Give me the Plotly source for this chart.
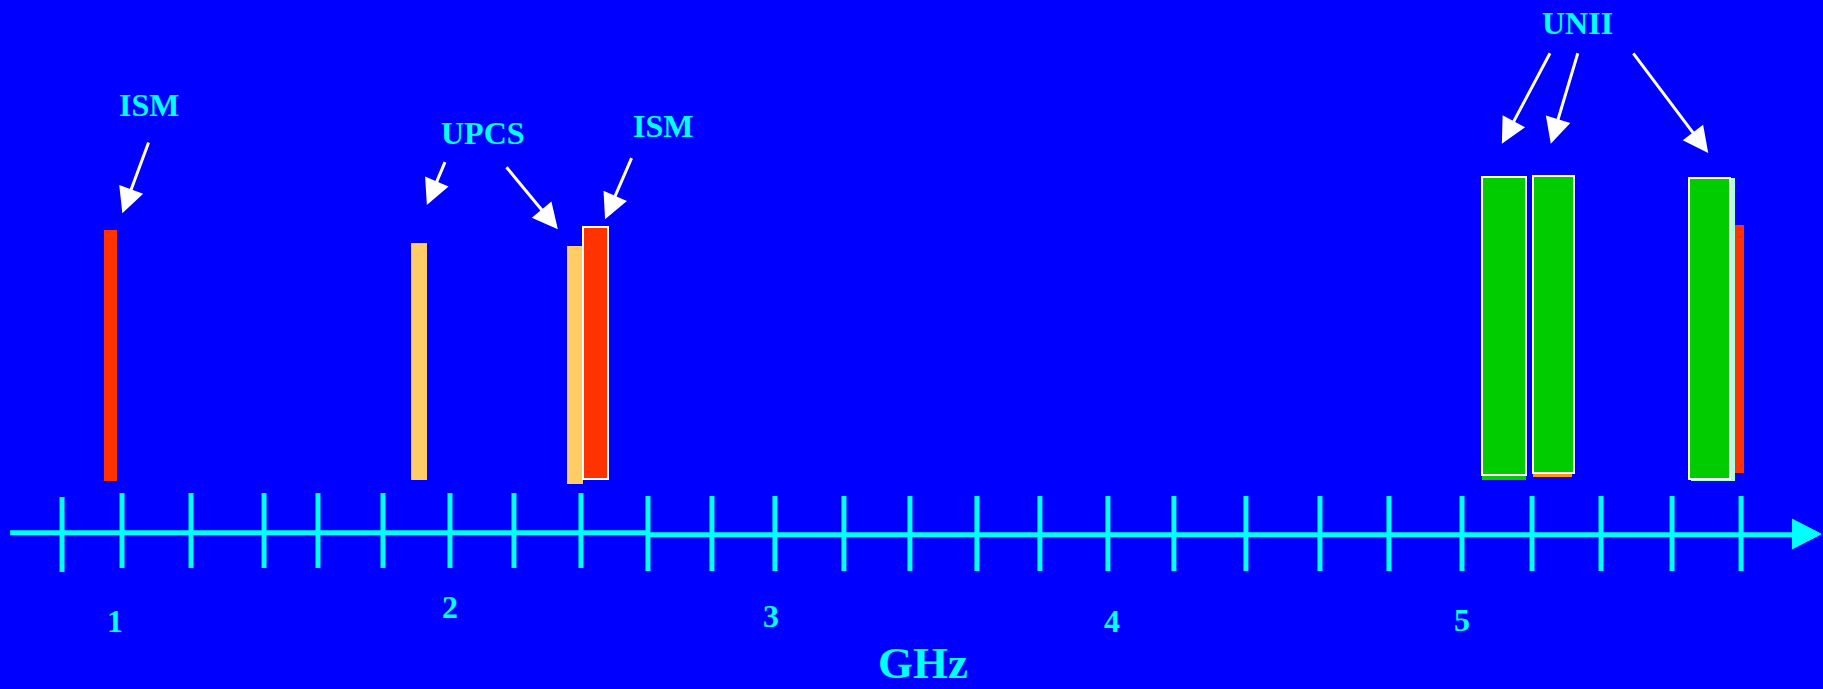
import plotly.graph_objects as go

# ---- data (x in GHz, y in relative height units; axis baseline = 0) ----
bar_names  = ["ISM 900", "UPCS 1.9", "UPCS 2.4", "ISM 2.4",
              "UNII-1 under", "UNII-1", "UNII-2 under", "UNII-2",
              "ISM 5.8", "UNII-3 under", "UNII-3"]
bar_x0     = [0.946, 1.863, 2.328, 2.376, 5.060, 5.061, 5.212, 5.211, 5.675, 5.684, 5.679]
bar_x1     = [0.985, 1.910, 2.376, 2.451, 5.191, 5.192, 5.328, 5.335, 5.842, 5.815, 5.801]
bar_y0     = [5.2, 5.3, 4.9, 5.4, 5.3, 5.8, 5.6, 6.0, 6.0, 5.2, 5.4]
bar_y1     = [30.3, 29.0, 28.7, 30.6, 35.6, 35.6, 35.6, 35.7, 30.8, 35.5, 35.5]
bar_colors = ["#FF3300", "#FFCC66", "#FFCC66", "#FF3300",
              "#00CC00", "#00CC00", "#FF9900", "#00CC00",
              "#FF3300", "#AAFFDD", "#00CC00"]
bar_outline = [False, False, False, True, False, True, False, True, False, False, True]

# axis tick positions (as drawn, GHz)
tick_pos = [0.821, 1.000, 1.206, 1.424, 1.585, 1.779, 1.979, 2.170, 2.370,
            2.570, 2.761, 2.949, 3.155, 3.352, 3.552, 3.740, 3.943, 4.140,
            4.355, 4.576, 4.782, 5.000, 5.209, 5.415, 5.627, 5.833]
tick_top = [3.6] + [4.0] * 8 + [3.7] * 17
tick_bot = [-3.9] + [-3.5] * 8 + [-3.8] * 17

tick_labels   = ["1", "2", "3", "4", "5"]
tick_label_x  = [0.979, 1.979, 2.937, 3.955, 5.001]
tick_label_y  = [-8.8, -7.4, -8.3, -8.8, -8.7]

band_labels   = ["ISM", "UPCS", "ISM", "UNII"]
band_label_x  = [1.081, 2.078, 2.615, 5.345]
band_label_y  = [42.83, 39.97, 40.70, 51.04]

# arrows: tail -> tip
arrow_tail_x = [1.081, 1.966, 2.144, 2.523, 5.265, 5.347, 5.508]
arrow_tail_y = [39.2, 37.23, 36.73, 37.63, 48.12, 48.12, 48.12]
arrow_tip_x  = [1.001, 1.910, 2.301, 2.442, 5.119, 5.265, 5.735]
arrow_tip_y  = [31.97, 32.8, 30.37, 31.37, 38.93, 38.93, 38.01]

axis_seg_x = [[0.666, 2.570], [2.570, 5.985]]
axis_seg_y = [[0.03, 0.03], [-0.17, -0.17]]
axis_head_x = [5.985, 6.072, 5.985]
axis_head_y = [1.4, -0.1, -1.6]

unit_label = "GHz"
unit_label_x = 3.391
unit_label_y = -13.0

BLUE = "#0000FF"
CYAN = "#00FFFF"
FONT = "Liberation Serif"

fig = go.Figure()

for i in range(len(bar_names)):
    fig.add_trace(go.Bar(
        x=[(bar_x0[i] + bar_x1[i]) / 2], width=[bar_x1[i] - bar_x0[i]],
        base=[bar_y0[i]], y=[bar_y1[i] - bar_y0[i]],
        marker=dict(color=bar_colors[i],
                    line=dict(color="white" if bar_outline[i] else bar_colors[i],
                              width=2 if bar_outline[i] else 0)),
        name=bar_names[i], showlegend=False, hoverinfo="skip"))

# axis line
for sx, sy in zip(axis_seg_x, axis_seg_y):
    fig.add_trace(go.Scatter(x=sx, y=sy, mode="lines",
                             line=dict(color=CYAN, width=5),
                             showlegend=False, hoverinfo="skip"))
fig.add_trace(go.Scatter(x=axis_head_x, y=axis_head_y, mode="lines",
                         fill="toself", fillcolor=CYAN, line=dict(color=CYAN, width=1),
                         showlegend=False, hoverinfo="skip"))
# ticks
tx, ty = [], []
for p, t, b in zip(tick_pos, tick_top, tick_bot):
    tx += [p, p, None]
    ty += [t, b, None]
fig.add_trace(go.Scatter(x=tx, y=ty, mode="lines",
                         line=dict(color=CYAN, width=5),
                         showlegend=False, hoverinfo="skip"))

annotations = []
for t, x, y in zip(tick_labels, tick_label_x, tick_label_y):
    annotations.append(dict(x=x, y=y, xref="x", yref="y", text=t, showarrow=False,
                            font=dict(family=FONT, size=32, color=CYAN, weight="bold"),
                            xanchor="center", yanchor="middle"))
for t, x, y in zip(band_labels, band_label_x, band_label_y):
    annotations.append(dict(x=x, y=y, xref="x", yref="y", text=t, showarrow=False,
                            font=dict(family=FONT, size=32, color=CYAN, weight="bold"),
                            xanchor="center", yanchor="middle"))
annotations.append(dict(x=unit_label_x, y=unit_label_y, xref="x", yref="y", text=unit_label,
                        showarrow=False,
                        font=dict(family=FONT, size=45, color=CYAN, weight="bold"),
                        xanchor="center", yanchor="middle"))
for ax_, ay_, x_, y_ in zip(arrow_tail_x, arrow_tail_y, arrow_tip_x, arrow_tip_y):
    annotations.append(dict(x=x_, y=y_, ax=ax_, ay=ay_, xref="x", yref="y",
                            axref="x", ayref="y", text="", showarrow=True,
                            arrowhead=2, arrowsize=1.7, arrowwidth=3,
                            arrowcolor="white", standoff=0, startstandoff=0))

fig.update_layout(
    width=1823, height=689, autosize=False,
    margin=dict(l=0, r=0, t=0, b=0, pad=0),
    paper_bgcolor=BLUE, plot_bgcolor=BLUE,
    barmode="overlay", bargap=0,
    xaxis=dict(range=[0.6358, 6.0776], visible=False, fixedrange=True),
    yaxis=dict(range=[-15.6, 53.3], visible=False, fixedrange=True),
    annotations=annotations,
    showlegend=False,
)

fig.write_html("out.html", config={"displayModeBar": False},
               post_script="document.body.style.margin='0';document.body.style.overflow='hidden';document.body.style.background='#0000FF';")
